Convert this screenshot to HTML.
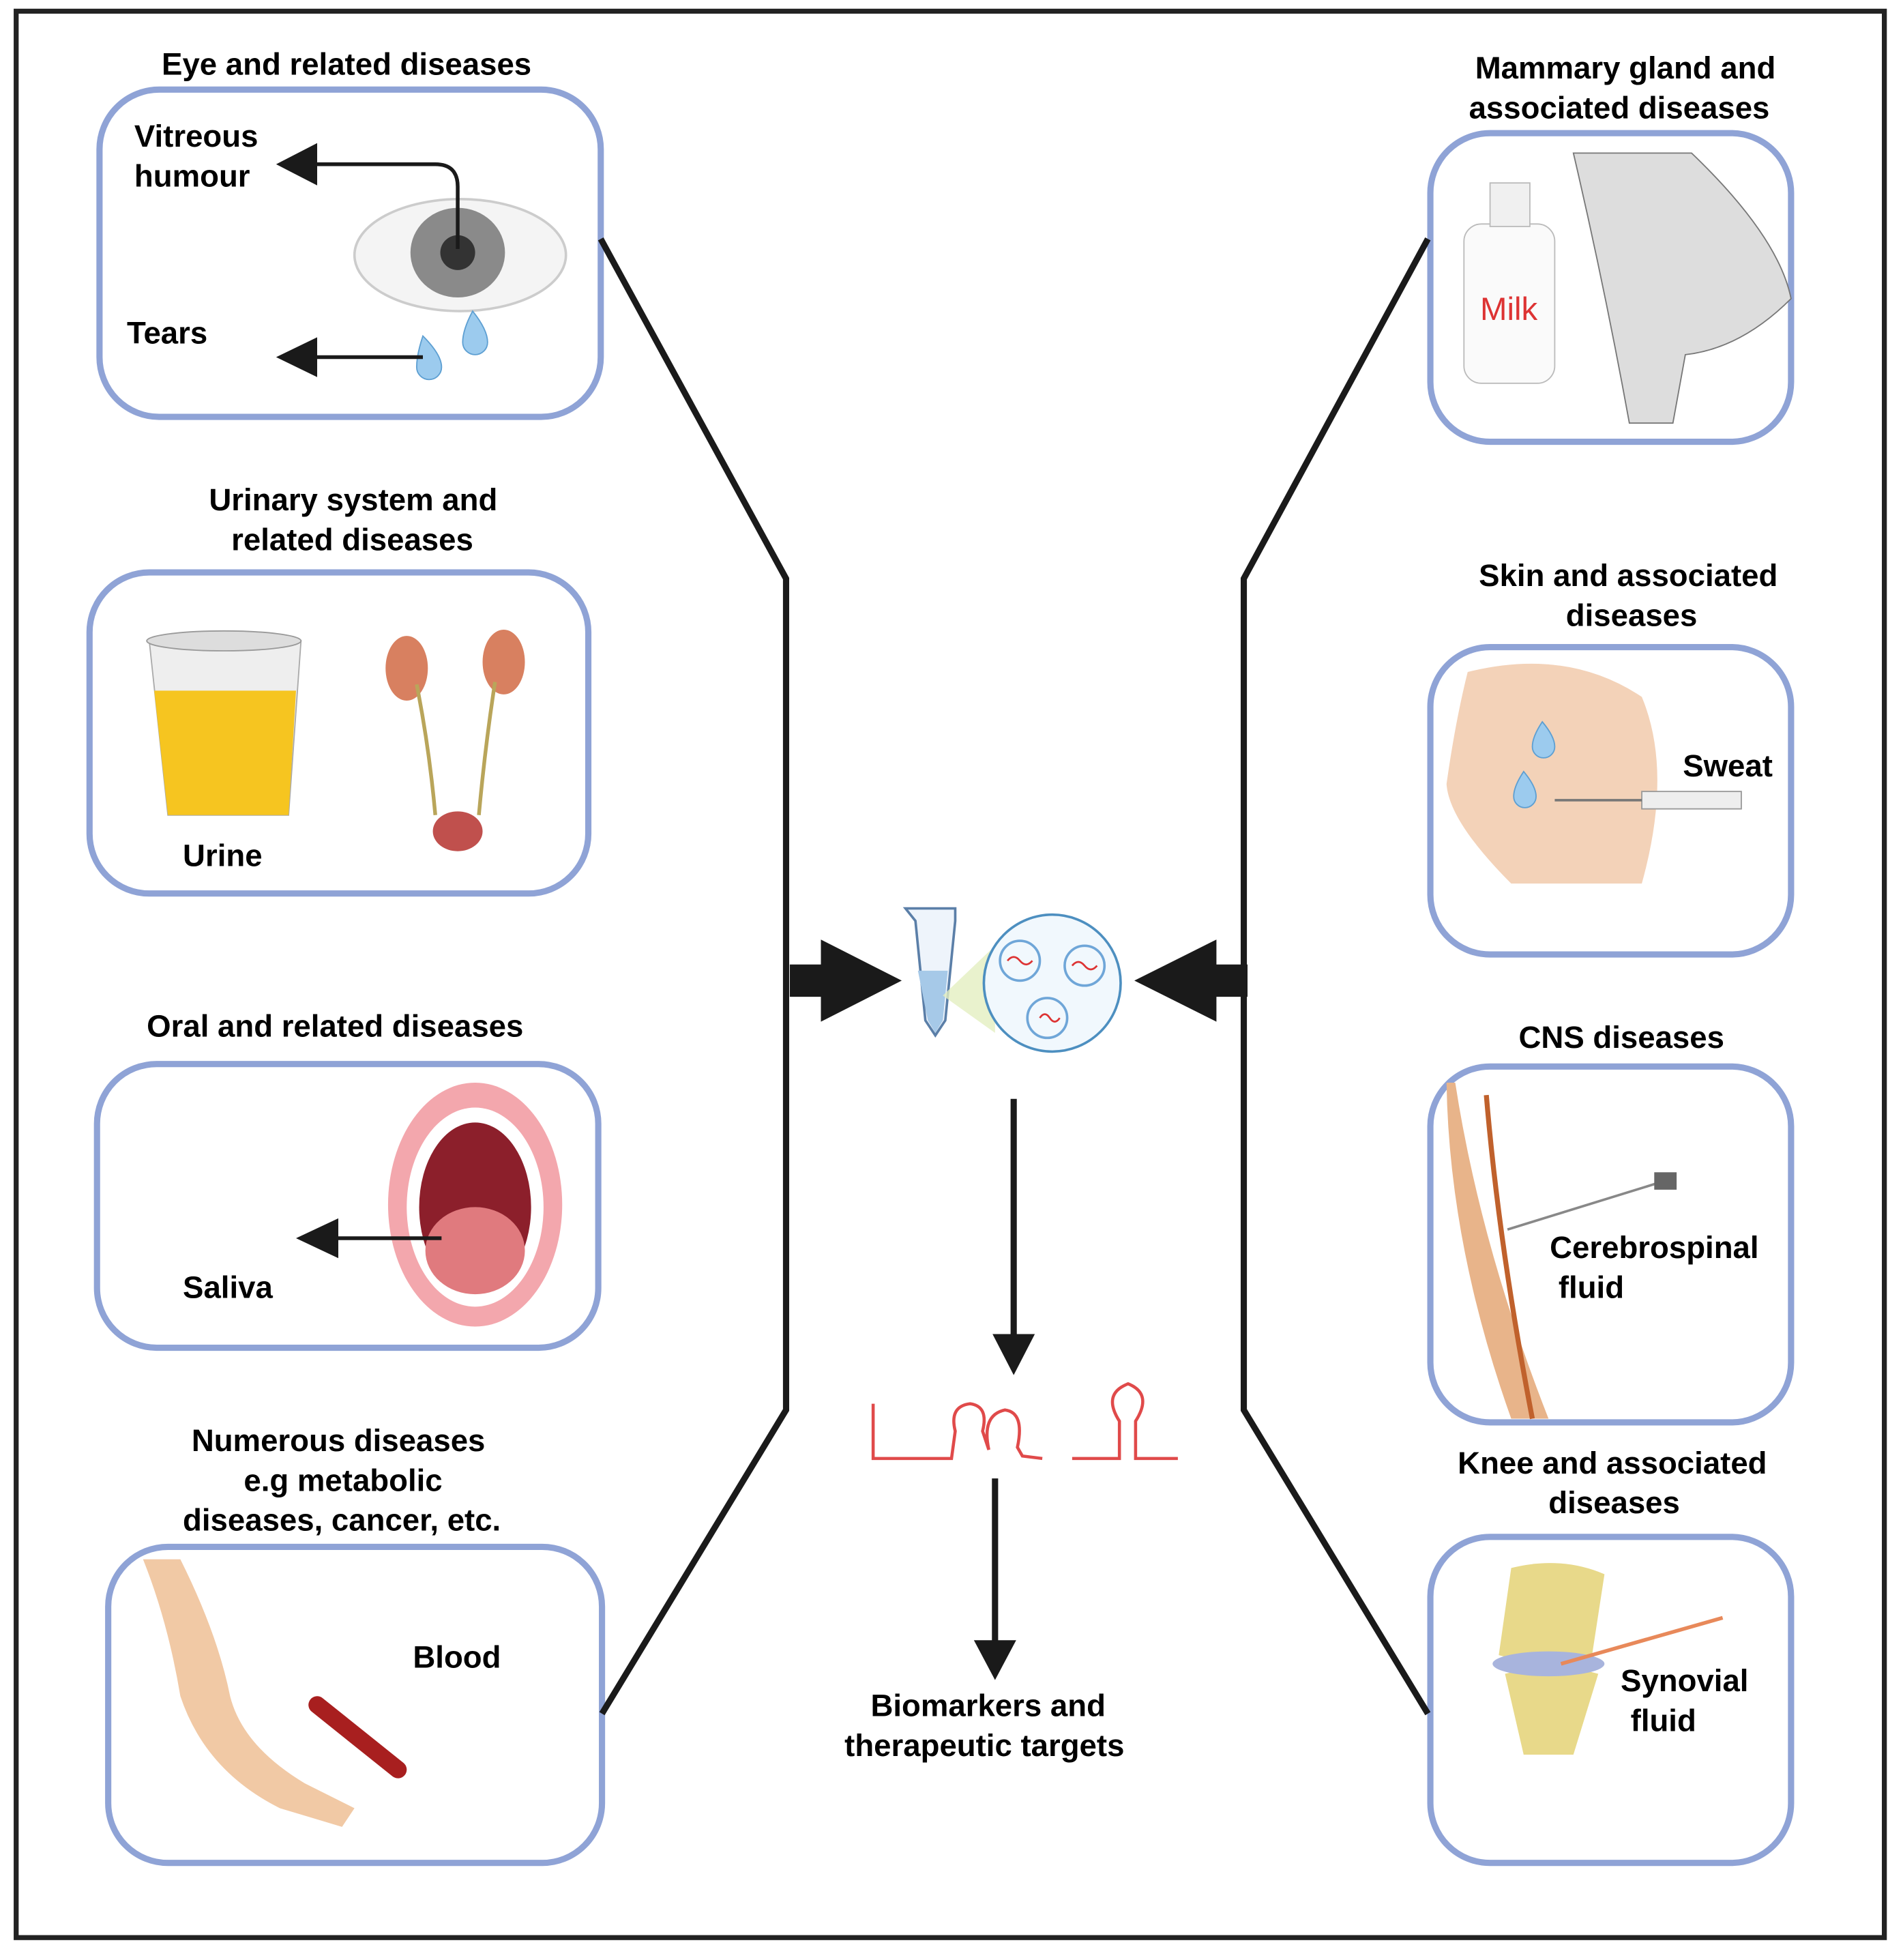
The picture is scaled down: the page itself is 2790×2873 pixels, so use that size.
<!DOCTYPE html>
<html><head><meta charset="utf-8"><style>html,body{margin:0;padding:0;background:#fff}svg{display:block}</style></head>
<body>
<svg width="2790" height="2873" viewBox="0 0 1530 1575" preserveAspectRatio="none" xmlns="http://www.w3.org/2000/svg" font-family="Liberation Sans, sans-serif" font-weight="bold" font-size="25">
<rect width="1530" height="1575" fill="#fff"/>
<rect x="13" y="9" width="1502" height="1548" fill="none" stroke="#222" stroke-width="4"/>
<g fill="none" stroke="#8fa3d6" stroke-width="5">
<rect x="80" y="72" width="403" height="263" rx="48"/>
<rect x="72" y="460" width="401" height="258" rx="48"/>
<rect x="78" y="855" width="403" height="228" rx="48"/>
<rect x="87" y="1243" width="397" height="254" rx="48"/>
<rect x="1150" y="107" width="290" height="248" rx="48"/>
<rect x="1150" y="520" width="290" height="247" rx="48"/>
<rect x="1150" y="857" width="290" height="286" rx="48"/>
<rect x="1150" y="1235" width="290" height="262" rx="48"/>
</g>
<g fill="none" stroke="#1a1a1a" stroke-width="5">
<polyline points="483,192 632,465 632,1133 484,1377"/>
<polyline points="1148,192 1000,465 1000,1133 1148,1377"/>
<line x1="815" y1="883" x2="815" y2="1078"/>
<line x1="800" y1="1188" x2="800" y2="1322"/>
</g>
<polygon points="798,1072 832,1072 815,1105" fill="#1a1a1a"/>
<polygon points="783,1318 817,1318 800,1350" fill="#1a1a1a"/>
<polygon points="635,775 660,775 660,755 725,788 660,821 660,801 635,801" fill="#1a1a1a"/>
<polygon points="1003,775 978,775 978,755 912,788 978,821 978,801 1003,801" fill="#1a1a1a"/>
<!-- center tube & circle -->
<path d="M728,730 L768,730 L768,740 L760,820 L752,832 L744,820 L736,740 Z" fill="#eef4fb" stroke="#5b7fa8" stroke-width="2"/>
<path d="M738,780 L762,780 L758,820 L752,830 L746,820Z" fill="#a6c9e8"/>
<polygon points="758,800 800,760 800,830" fill="#e3efc0" opacity="0.8"/>
<circle cx="846" cy="790" r="55" fill="#f1f8fd" stroke="#4d8fc0" stroke-width="2"/>
<g fill="none" stroke="#6fa6d8" stroke-width="2"><circle cx="820" cy="772" r="16"/><circle cx="872" cy="776" r="16"/><circle cx="842" cy="818" r="16"/></g>
<g stroke="#d33" stroke-width="1.5" fill="none"><path d="M810,772 q5,-6 10,0 t10,0"/><path d="M862,776 q5,-6 10,0 t10,0"/><path d="M836,818 q4,-6 8,0 t8,0"/></g>
<!-- RNA -->
<g fill="none" stroke="#e04a4a" stroke-width="2.5">
<path d="M702,1128 L702,1172 L765,1172 L768,1150 q-5,-20 12,-22 q15,2 10,22 L795,1165 q-6,-28 13,-32 q16,2 10,30 L822,1170 L838,1172"/>
<path d="M862,1172 L900,1172 L900,1142 q-14,-22 7,-30 q20,8 6,30 L913,1172 L947,1172"/>
</g>
<!-- eye -->
<ellipse cx="370" cy="205" rx="85" ry="45" fill="#f4f4f4" stroke="#ccc" stroke-width="2"/>
<ellipse cx="368" cy="203" rx="38" ry="36" fill="#8a8a8a"/><circle cx="368" cy="203" r="14" fill="#333"/>
<path d="M340,270 q15,15 15,25 a10,10 0 0 1 -20,0 q0,-10 5,-25z M380,250 q12,15 12,25 a10,10 0 0 1 -20,0 q0,-10 8,-25z" fill="#9ccbee" stroke="#5d9fd2"/>
<g stroke="#1a1a1a" stroke-width="3" fill="none"><path d="M368,200 L368,150 q0,-18 -18,-18 L250,132"/><line x1="340" y1="287" x2="250" y2="287"/></g>
<polygon points="222,132 255,115 255,149" fill="#1a1a1a"/><polygon points="222,287 255,271 255,303" fill="#1a1a1a"/>
<text x="130" y="60">Eye and related diseases</text>
<text x="108" y="118">Vitreous</text><text x="108" y="150">humour</text>
<text x="102" y="276">Tears</text>
<!-- urinary -->
<text x="168" y="410">Urinary system and</text><text x="186" y="442">related diseases</text>
<path d="M120,515 L242,515 L232,655 L135,655Z" fill="#eee" stroke="#aaa"/>
<path d="M124,555 L238,555 L232,655 L135,655Z" fill="#f6c520"/>
<ellipse cx="180" cy="515" rx="62" ry="8" fill="#ddd" stroke="#999"/>
<ellipse cx="327" cy="537" rx="17" ry="26" fill="#d88060"/><ellipse cx="405" cy="532" rx="17" ry="26" fill="#d88060"/>
<path d="M335,550 Q345,600 350,655 M398,548 Q390,600 385,655" stroke="#b9a55a" stroke-width="3" fill="none"/>
<ellipse cx="368" cy="668" rx="20" ry="16" fill="#c0504d"/>
<text x="147" y="696">Urine</text>
<!-- oral -->
<text x="118" y="833">Oral and related diseases</text>
<ellipse cx="382" cy="968" rx="70" ry="98" fill="#f3a7ad"/>
<ellipse cx="382" cy="970" rx="55" ry="80" fill="#fff"/>
<ellipse cx="382" cy="970" rx="45" ry="68" fill="#8c1f2b"/>
<ellipse cx="382" cy="1005" rx="40" ry="35" fill="#e07a7e"/>
<line x1="355" y1="995" x2="270" y2="995" stroke="#1a1a1a" stroke-width="3"/>
<polygon points="238,995 272,979 272,1011" fill="#1a1a1a"/>
<text x="147" y="1043">Saliva</text>
<!-- blood -->
<text x="154" y="1166">Numerous  diseases</text><text x="196" y="1198">e.g metabolic</text><text x="147" y="1230">diseases, cancer, etc.</text>
<path d="M145,1253 q30,60 40,110 q10,40 60,70 l40,20 l-10,15 l-50,-15 q-60,-30 -80,-90 q-10,-60 -30,-110z" fill="#f1c9a5"/>
<path d="M255,1370 L320,1422" stroke="#a81f1f" stroke-width="14" stroke-linecap="round"/>
<text x="332" y="1340">Blood</text>
<!-- mammary -->
<text x="1186" y="63">Mammary gland and</text><text x="1181" y="95">associated   diseases</text>
<rect x="1177" y="180" width="73" height="128" rx="14" fill="#fafafa" stroke="#bbb"/>
<rect x="1198" y="147" width="32" height="35" fill="#f0f0f0" stroke="#bbb"/>
<text x="1190" y="257" fill="#d33" font-weight="normal" font-size="26">Milk</text>
<path d="M1265,123 L1360,123 Q1430,190 1440,240 Q1400,280 1355,285 L1345,340 L1310,340 Q1290,230 1265,123Z" fill="#ddd" stroke="#777"/>
<!-- skin -->
<text x="1189" y="471">Skin and associated</text><text x="1259" y="503">diseases</text>
<path d="M1180,540 Q1260,520 1320,560 Q1345,620 1320,710 L1215,710 Q1165,660 1163,630 Q1170,580 1180,540Z" fill="#f3d2b8"/>
<path d="M1240,580 q10,12 10,20 a9,9 0 0 1 -18,0 q0,-8 8,-20z M1225,620 q10,12 10,20 a9,9 0 0 1 -18,0 q0,-8 8,-20z" fill="#9ccbee" stroke="#5d9fd2"/>
<rect x="1320" y="636" width="80" height="14" fill="#eee" stroke="#999"/><line x1="1250" y1="643" x2="1320" y2="643" stroke="#777" stroke-width="2"/>
<text x="1353" y="624">Sweat</text>
<!-- CNS -->
<text x="1221" y="842">CNS diseases</text>
<path d="M1170,870 Q1190,1000 1245,1140 L1215,1140 Q1165,1000 1163,870Z" fill="#e8b48a"/>
<path d="M1195,880 Q1205,1000 1232,1140" stroke="#c0612c" stroke-width="4" fill="none"/>
<line x1="1212" y1="988" x2="1335" y2="950" stroke="#888" stroke-width="2"/><rect x="1330" y="942" width="18" height="14" fill="#666"/>
<text x="1246" y="1011">Cerebrospinal</text><text x="1253" y="1043">fluid</text>
<!-- knee -->
<text x="1172" y="1184">Knee and associated</text><text x="1245" y="1216">diseases</text>
<path d="M1215,1260 Q1255,1250 1290,1265 L1280,1330 Q1240,1340 1205,1330Z" fill="#e8d98a"/>
<path d="M1210,1345 Q1250,1335 1285,1345 L1265,1410 L1225,1410Z" fill="#e8d98a"/>
<ellipse cx="1245" cy="1337" rx="45" ry="10" fill="#a8b4dd"/>
<line x1="1255" y1="1337" x2="1385" y2="1300" stroke="#e8895a" stroke-width="3"/>
<text x="1303" y="1359">Synovial</text><text x="1311" y="1391">fluid</text>
<text x="700" y="1379">Biomarkers and</text><text x="679" y="1411">therapeutic targets</text>
</svg>
</body></html>
